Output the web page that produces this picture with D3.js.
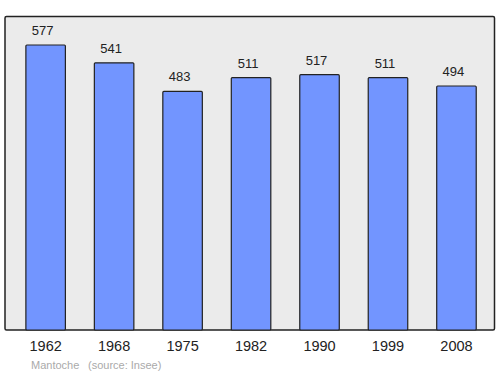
<!DOCTYPE html>
<html>
<head>
<meta charset="utf-8">
<script src="https://cdn.jsdelivr.net/npm/d3@7"></script>
<style>
  body { margin: 0; background: #fff; }
  text { font-family: "Liberation Sans", Arial, sans-serif; }
</style>
</head>
<body>
<div id="wrapper"></div>
<script>
// Data
const years = ["1962", "1968", "1975", "1982", "1990", "1999", "2008"];
const population = [577, 541, 483, 511, 517, 511, 494];
const footerTexts = ["Mantoche", "(source: Insee)"];

const drawChart = () => {
    const dimensions = {
        width: 500,
        height: 374,
        frame: { left: 5, top: 16.5, right: 494.5, bottom: 330 },
    };

    const wrapper = d3.select("#wrapper")
        .append("svg")
        .attr("width", dimensions.width)
        .attr("height", dimensions.height);

    // Frame / background
    wrapper.append("rect")
        .attr("x", dimensions.frame.left)
        .attr("y", dimensions.frame.top)
        .attr("width", dimensions.frame.right - dimensions.frame.left)
        .attr("height", dimensions.frame.bottom - dimensions.frame.top)
        .attr("rx", 1.5)
        .attr("fill", "#ebebeb")
        .attr("stroke", "#222")
        .attr("stroke-width", 1.5);

    // Scales
    const xScale = d3.scaleBand()
        .domain(years)
        .range([11.4, 490.7])
        .paddingInner(0.423)
        .paddingOuter(0.2115);
    const yScale = d3.scaleLinear()
        .domain([0, d3.max(population) * 1.1])
        .range([dimensions.frame.bottom, dimensions.frame.top]);

    const data = years.map((y, i) => ({ year: y, value: population[i] }));

    // Bars
    wrapper.append("g")
        .selectAll("rect")
        .data(data)
        .enter().append("rect")
        .attr("x", d => xScale(d.year))
        .attr("y", d => yScale(d.value))
        .attr("width", xScale.bandwidth())
        .attr("height", d => yScale(0) - yScale(d.value))
        .attr("rx", 1)
        .attr("fill", "#7295ff")
        .attr("stroke", "#222")
        .attr("stroke-width", 1.2);

    // Value labels (slightly left of bar centre, as in the original)
    wrapper.append("g")
        .selectAll("text")
        .data(data)
        .enter().append("text")
        .attr("x", d => xScale(d.year) + xScale.bandwidth() / 2 - 3)
        .attr("y", d => yScale(d.value) - 10)
        .attr("text-anchor", "middle")
        .attr("font-size", 13)
        .attr("fill", "#222")
        .text(d => d.value);

    // x axis labels
    const xAxis = wrapper.append("g")
        .attr("transform", `translate(0, ${dimensions.frame.bottom})`)
        .call(d3.axisBottom(xScale).tickSize(0).tickPadding(11));
    xAxis.select(".domain").remove();
    xAxis.selectAll("text")
        .attr("font-size", 14.5)
        .attr("fill", "#222")
        .style("font-family", "'Liberation Sans', Arial, sans-serif");

    // Footer
    wrapper.append("text")
        .attr("x", 31)
        .attr("y", 369)
        .attr("font-size", 11)
        .attr("fill", "#aaa")
        .text(footerTexts[0]);
    wrapper.append("text")
        .attr("x", 88)
        .attr("y", 369)
        .attr("font-size", 11)
        .attr("fill", "#aaa")
        .text(footerTexts[1]);
};
drawChart();
</script>
</body>
</html>
